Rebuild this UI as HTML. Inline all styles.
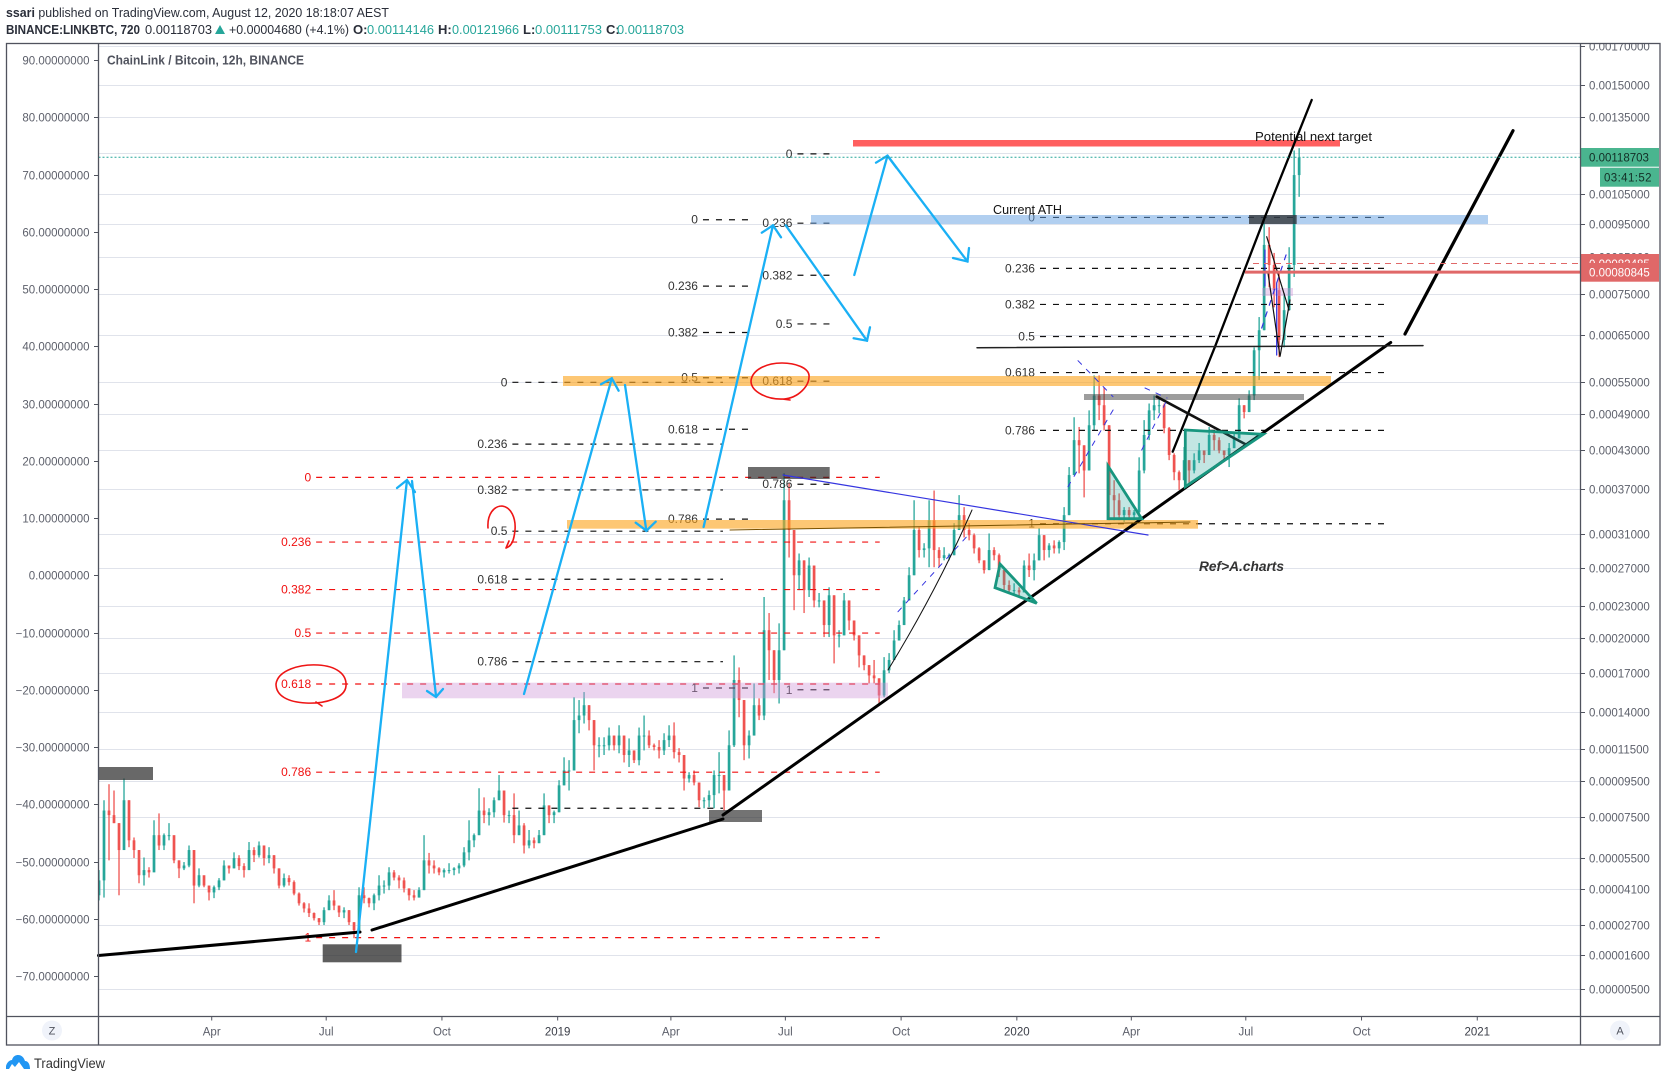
<!DOCTYPE html>
<html lang="en">
<head>
<meta charset="utf-8">
<title>LINKBTC TradingView chart</title>
<style>
html,body{margin:0;padding:0;background:#fff;width:1667px;height:1082px;overflow:hidden}
svg{display:block;font-family:"Liberation Sans",sans-serif}
</style>
</head>
<body>
<svg id="chart" xmlns="http://www.w3.org/2000/svg" width="1667" height="1082" viewBox="0 0 1667 1082">
  <defs>
    <clipPath id="plot-clip"><rect x="98.5" y="44" width="1481.5" height="972"/></clipPath>
    <clipPath id="right-clip"><rect x="1580" y="44" width="80" height="972"/></clipPath>
    <clipPath id="hidden-label-clip"><rect x="1580" y="250" width="80" height="13"/></clipPath>
  </defs>

  <text x="6" y="17" font-size="13" fill="#2a2e39" textLength="383" lengthAdjust="spacingAndGlyphs"><tspan font-weight="bold">ssari</tspan> published on TradingView.com, August 12, 2020 18:18:07 AEST</text>
  <g font-size="13" fill="#2a2e39">
    <text x="6" y="34" font-weight="bold" textLength="134" lengthAdjust="spacingAndGlyphs">BINANCE:LINKBTC, 720</text>
    <text x="145" y="34" textLength="67" lengthAdjust="spacingAndGlyphs">0.00118703</text>
    <polygon points="215,34 225,34 220,25" fill="#26a69a"/>
    <text x="229" y="34" textLength="120" lengthAdjust="spacingAndGlyphs">+0.00004680 (+4.1%)</text>
    <text x="353" y="34" font-weight="bold">O:</text>
    <text x="367" y="34" fill="#26a69a" textLength="67" lengthAdjust="spacingAndGlyphs">0.00114146</text>
    <text x="438" y="34" font-weight="bold">H:</text>
    <text x="452" y="34" fill="#26a69a" textLength="67" lengthAdjust="spacingAndGlyphs">0.00121966</text>
    <text x="523" y="34" font-weight="bold">L:</text>
    <text x="535" y="34" fill="#26a69a" textLength="67" lengthAdjust="spacingAndGlyphs">0.00111753</text>
    <text x="606" y="34" font-weight="bold">C:</text>
    <text x="617" y="34" fill="#26a69a" textLength="67" lengthAdjust="spacingAndGlyphs">0.00118703</text>
  </g>

  <g id="grid"></g>
  <g id="candles" clip-path="url(#plot-clip)"></g>
  <g id="fibs" clip-path="url(#plot-clip)"></g>

  <g>
    <rect x="853" y="140" width="487" height="6.5" fill="#ff5f5f"/>
    <rect x="811" y="215" width="677" height="9" fill="rgba(100,160,225,.5)"/>
    <rect x="563" y="376" width="768" height="10" fill="rgba(252,165,30,.62)"/>
    <rect x="567" y="520" width="631" height="8.7" fill="rgba(252,165,30,.62)"/>
    <rect x="402" y="682.7" width="486" height="15.6" fill="rgba(206,147,216,.4)"/>
    <rect x="1262" y="288" width="31" height="8" fill="rgba(206,147,216,.4)"/>
    <rect x="1084" y="394" width="220" height="6" fill="rgba(60,60,60,.5)"/>
    <rect x="1249" y="215" width="47.7" height="9" fill="rgba(40,40,40,.72)"/>
    <rect x="748" y="467" width="81.7" height="12" fill="rgba(40,40,40,.68)"/>
    <rect x="98.5" y="767" width="54.5" height="13" fill="rgba(40,40,40,.7)"/>
    <rect x="322.7" y="944.3" width="78.8" height="18" fill="rgba(40,40,40,.75)"/>
    <rect x="709" y="810" width="53" height="12" fill="rgba(40,40,40,.65)"/>
  </g>

  <g fill="none" stroke-linecap="round">
    <line x1="98.5" y1="955.5" x2="360" y2="932" stroke="#000" stroke-width="3"/>
    <line x1="372" y1="930" x2="723" y2="819" stroke="#000" stroke-width="3"/>
    <line x1="723" y1="815" x2="1390.7" y2="342.5" stroke="#000" stroke-width="3"/>
    <line x1="1405" y1="334" x2="1513" y2="130.7" stroke="#000" stroke-width="3.2"/>
    <path d="M1172.7 451.7 L1215 346.7 L1265 216.7 L1311.7 100" stroke="#000" stroke-width="2.3"/>
    <line x1="977" y1="347.7" x2="1423" y2="345.6" stroke="#222" stroke-width="1.5"/>
    <line x1="1156.7" y1="396.7" x2="1245" y2="444" stroke="#111" stroke-width="2.6"/>
    <line x1="783" y1="475" x2="1148" y2="535" stroke="#3535e0" stroke-width="1.2"/>
    <path d="M888 670 Q937 590 972 510" stroke="#111" stroke-width="1"/>
    <line x1="730" y1="530" x2="1190" y2="522" stroke="#7a5200" stroke-width="1"/>
    <line x1="898" y1="611.7" x2="966.7" y2="536.7" stroke="#3535e0" stroke-width="1" stroke-dasharray="5 7"/>
    <line x1="1068" y1="486.7" x2="1115" y2="406.7" stroke="#3535e0" stroke-width="1" stroke-dasharray="5 7"/>
    <line x1="1078" y1="360.7" x2="1113" y2="396.7" stroke="#3535e0" stroke-width="1" stroke-dasharray="5 7"/>
    <line x1="1141.7" y1="450" x2="1168" y2="398" stroke="#3535e0" stroke-width="1" stroke-dasharray="5 7"/>
    <line x1="1145" y1="388" x2="1167" y2="398" stroke="#3535e0" stroke-width="1" stroke-dasharray="5 7"/>
    <line x1="1261.7" y1="328" x2="1286.7" y2="253" stroke="#3535e0" stroke-width="1.2" stroke-dasharray="5 7"/>
    <line x1="1265" y1="250" x2="1265" y2="286" stroke="#2a2ae0" stroke-width="1.2"/>
    <line x1="1276.7" y1="283" x2="1276.7" y2="355" stroke="#2a2ae0" stroke-width="1.2"/>
    <line x1="1266.7" y1="236.7" x2="1289" y2="310" stroke="#111" stroke-width="1.2"/>
    <polyline points="1268,273 1280,356.7 1290,300" stroke="#111" stroke-width="1.2"/>
  </g>

  <g stroke="#18967f" stroke-width="2.8" fill="rgba(38,166,154,.28)" stroke-linejoin="miter">
    <polygon points="1108,466 1108,518.7 1141.7,518.7"/>
    <polygon points="1185.3,430 1263.3,434.3 1185.3,486.7"/>
    <polygon points="1000,564 995,587.7 1036.7,603.3"/>
  </g>

  <g fill="none" stroke="#1ab0f5" stroke-width="2.3" stroke-linecap="round" stroke-linejoin="miter">
    <polyline points="356,952 407,480"/>
    <polyline points="397,488 407,480 415,492"/>
    <polyline points="412,481 436,696"/>
    <polyline points="427,691 436,697 443,689"/>
    <polyline points="524,694 611.8,378.3"/>
    <polyline points="601,384.3 611.8,378.3 618.6,390.7"/>
    <polyline points="625,385 646.4,531"/>
    <polyline points="635.7,522.7 646.4,530.7 655.7,521.7"/>
    <polyline points="703.6,527 773,225.3"/>
    <polyline points="761.8,232.7 773,225.3 781,237.3"/>
    <polyline points="785.7,225.3 867,340.7"/>
    <polyline points="853.6,338.3 867,340.7 870,327.3"/>
    <polyline points="854.3,275 887.5,155.7"/>
    <polyline points="876,162.7 887.5,155.7 896.4,167.7"/>
    <polyline points="887.5,155.7 967.5,261.5"/>
    <polyline points="953,258 967.5,261.5 969,248"/>
  </g>

  <g fill="none" stroke="#ee1515" stroke-width="1.6" stroke-linecap="round">
    <path d="M276 684 C278 670 300 664 318 665 C336 666 347 674 346 686 C345 698 325 704 306 703 C288 702 276 696 276 684 M316 702 L322 706"/>
    <path d="M488 528 C487 514 494 506 502 506 C511 507 516 518 515 530 C514 540 512 546 506 548 M506 548 L509 541"/>
    <path d="M751 381 C752 370 766 363 782 363 C796 363 808 368 809 375 C810 386 798 398 784 399 C768 400 751 392 751 381 M782 399 L790 400"/>
  </g>

  <g fill="#111">
    <text x="1255" y="141" font-size="12.5" textLength="117" lengthAdjust="spacingAndGlyphs">Potential next target</text>
    <text x="993" y="214" font-size="12.5" textLength="69" lengthAdjust="spacingAndGlyphs">Current ATH</text>
    <text x="1199" y="571" font-size="13.5" font-weight="bold" font-style="italic" fill="#333" textLength="85" lengthAdjust="spacingAndGlyphs">Ref&gt;A.charts</text>
  </g>

  <line id="price-line" x1="98.5" x2="1580" stroke="#26a69a" stroke-width="1" stroke-dasharray="2 2"/>
  <line x1="1253" y1="263.5" x2="1580" y2="263.5" stroke="#e06868" stroke-width="1" stroke-dasharray="6 5"/>
  <line id="red-price-line" x1="1245" x2="1580" stroke="#e06868" stroke-width="3"/>

  <text x="107" y="64.5" font-size="12.5" font-weight="bold" fill="#50535e" textLength="197" lengthAdjust="spacingAndGlyphs">ChainLink / Bitcoin, 12h, BINANCE</text>

  <g id="left-axis"></g>
  <g id="right-axis" clip-path="url(#right-clip)"></g>
  <g id="time-axis"></g>

  <g font-size="11.5">
    <rect x="1580" y="148" width="79" height="18.7" fill="#4ab58f"/>
    <text x="1589" y="161.5" fill="#132e26">0.00118703</text>
    <rect x="1600" y="167.7" width="59" height="19" fill="#4ab58f"/>
    <text x="1604" y="181.5" fill="#132e26" letter-spacing=".4">03:41:52</text>
    <rect x="1580" y="254" width="79" height="12" fill="#e06868"/>
    <text x="1589" y="268" fill="#fff" clip-path="url(#hidden-label-clip)">0.00082485</text>
    <rect x="1580" y="263" width="79" height="18.7" fill="#e06868"/>
    <text x="1589" y="276.5" fill="#fff">0.00080845</text>
  </g>

  <g fill="none" stroke="#50535e" stroke-width="1.3">
    <rect x="6.5" y="43.5" width="1653.5" height="1001.5"/>
    <line x1="98.5" y1="43.5" x2="98.5" y2="1045"/>
    <line x1="1580.5" y1="43.5" x2="1580.5" y2="1045"/>
    <line x1="6.5" y1="1016.5" x2="1660" y2="1016.5"/>
  </g>

  <circle cx="52" cy="1030.5" r="10" fill="#f0f3fa"/>
  <text x="52" y="1034.5" font-size="11" fill="#50535e" text-anchor="middle">Z</text>
  <circle cx="1620" cy="1030.5" r="10" fill="#f0f3fa"/>
  <text x="1620" y="1034.5" font-size="11" fill="#50535e" text-anchor="middle">A</text>

  <path d="M6 1069 L6 1066 C7 1062 10 1060 12 1060 C13 1056 16 1055 18 1055 C22 1055 24 1058 25 1061 C28 1061 30 1064 30 1069 L24 1069 L19 1062 L15 1067 L12 1064 L9 1069 Z" fill="#2196f3"/>
  <text x="34" y="1068" font-size="13.5" fill="#333" textLength="71" lengthAdjust="spacingAndGlyphs">TradingView</text>
</svg>

<script>
// ---- Candles, in left-axis units ----
const firstOpen = -55.9;
const candleHighs = [
-51.5,-39.3,-36.5,-37.6,-43.3,-35.5,-39.3,-45.8,-48,-49.3,
-51,-42.8,-41.6,-45.1,-43.3,-46.3,-49.8,-50.1,-47.2,-48,
-51.2,-52.8,-54.2,-54.2,-52.9,-49.8,-50.7,-48.4,-48.9,-50.3,
-46.6,-47.5,-46.5,-47.2,-47.5,-48.9,-51.2,-52.1,-52.4,-53.3,
-55.4,-57.1,-57.3,-58.9,-59.9,-58,-55.9,-55,-57.7,-58,
-58.5,-60.6,-54.5,-54.5,-56.3,-55.6,-52.4,-53.3,-51,-51.5,
-52.4,-52.8,-54.7,-55,-54.5,-45.4,-48.5,-49.8,-51,-51.2,
-50.3,-51,-50.3,-47.5,-42.8,-45.1,-37.2,-38.8,-40.7,-38.8,
-34.9,-37.6,-41.1,-38.1,-41.1,-43.3,-44.5,-45.8,-44.5,-38.1,
-40.2,-41.1,-35.8,-31.8,-32.3,-21.3,-21.8,-20.4,-22.7,-25.3,
-28.3,-28.3,-26.6,-28,-26.2,-28,-28.5,-30.6,-26.6,-24.5,
-27.1,-29.4,-28.8,-27.6,-26.2,-25.7,-30.2,-31.4,-34.4,-34.1,
-36.2,-38.8,-37.6,-34.1,-30.9,-34.9,-27.1,-14,-16.1,-21.8,
-27.1,-18.9,-21.5,-3.8,-6.6,-13.1,-8.4,17.8,16.1,7.9,
3.8,2.6,3.1,1.7,-3.1,-4.4,-2.1,-3.5,-9.6,-3.1,
-4.4,-7.9,-10.5,-14,-15.7,-14.8,-18,-14.3,-13.6,-9.6,
-7.9,-3.8,1.4,13.1,8.4,5.6,13.1,14.8,4.9,4.9,
3.8,9.1,14,11.9,9.1,7.3,4.9,2.6,7.3,4.9,
3.8,0.9,-0.9,-1.4,-2.1,2.6,3.8,3.8,8.2,7,
5.6,6.1,6.1,11.9,18.9,27.6,25.9,22.7,28.8,34.9,
34.9,32.8,26.2,16.6,14.3,11.9,11.9,11.4,20.6,27.1,
30,31.4,31.1,30,25.9,21.3,18.3,22.4,20.1,21.3,
23.1,21.8,25.9,25.3,24.1,21.8,23.1,24.8,30.9,29.7,
32.3,39.8,45.1,62,60.8,56.3,52.8,49.3,57.3,74.2,74.6];
const candleLows = [
-56.8,-56.3,-49.8,-43.3,-55.9,-46.3,-47.5,-49.4,-53.8,-54.2,
-52.8,-50.3,-48,-48,-46.3,-50.3,-52.9,-51.5,-51,-57.3,
-54.5,-54.5,-56.8,-56.4,-55,-53.3,-52.1,-51.2,-51.5,-52.8,
-51.5,-50.1,-49.3,-50.7,-50.3,-52.1,-54.7,-54.5,-54.2,-55.9,
-57.7,-58.9,-59.7,-60.3,-61.1,-61.1,-58.5,-58.5,-59.7,-59.9,
-61.1,-63.4,-62,-57.3,-58,-58.5,-56.8,-55.6,-55,-53.3,
-54.7,-55.4,-56.8,-56.8,-56.3,-55,-52.1,-52.1,-52.4,-52.8,
-52.1,-52.4,-52.1,-51,-49.8,-47.5,-45.4,-43.3,-43.7,-42.3,
-39.3,-43.2,-43.3,-46.8,-45.4,-48.6,-47.7,-47.7,-46.8,-45.4,
-43.3,-43.3,-41.4,-36.7,-37.6,-34.1,-27.6,-25.9,-27.1,-34.1,
-31.8,-31.4,-30.6,-30.6,-31.1,-32.7,-33.5,-32.8,-33.2,-30.6,
-30.2,-30.6,-32,-31.4,-30,-32,-32.7,-37.6,-36.2,-36.7,
-40.5,-40.7,-40.5,-40.7,-38.1,-41.1,-37.6,-30,-24.8,-32.3,
-32,-28,-25.3,-25.3,-18.3,-20.6,-22.4,-13.1,3.1,-6.1,
-2.6,-6.6,-3.8,-5.6,-5.6,-10.8,-10.8,-15.4,-12.6,-10.5,
-9.6,-11.4,-16.1,-16.6,-18.9,-18.9,-22.4,-21.3,-17.1,-14.8,
-11.4,-8.7,-4.4,0,3.1,3.1,1.4,1.4,1.4,2.6,
2.6,3.5,7.9,6.6,6.1,3.8,2.1,0.3,0.9,2.6,
-0.3,-2.6,-3.1,-3.5,-3.8,-3,-0.3,-0.9,2.6,2.6,
3.1,3.8,3.8,4.4,10.5,17.5,17.8,13.6,18.3,25.3,
27.1,25.3,9.6,9.6,9.6,9.3,9.6,9.6,9.6,17.8,
23.6,27.1,28.3,24.8,20.1,16.6,14.9,16.6,16.1,17.8,
19.6,19.6,21,21.8,21.3,20.1,18.9,22.2,23.9,27.4,
28.5,30.6,34.1,42.8,50.3,46.8,38.1,39.8,46.3,52.1,66.1];
const candleCloses = [
-53.3,-41.1,-41.9,-43.3,-48,-39.3,-46.3,-48,-52.4,-51.5,
-51.9,-45.4,-47.2,-45.4,-45.4,-49.8,-51.2,-50.7,-48,-54.2,
-52.4,-54.2,-55.4,-54.5,-53.3,-50.7,-51.2,-49.4,-50.8,-51.5,
-48,-48.9,-47.2,-49.4,-48.9,-51.2,-54.2,-52.9,-53.6,-55.6,
-57.3,-58.2,-59,-59.9,-60.6,-58.5,-56.8,-57.7,-58.9,-58.5,
-60.6,-62,-55.9,-56.4,-57.3,-55.9,-54.2,-54.2,-51.9,-52.8,
-53.3,-54.7,-55.9,-56.3,-55,-49.8,-50.7,-51.2,-51.9,-51.5,
-51.5,-51.2,-50.7,-48.4,-46.3,-45.4,-41.1,-41.9,-41.4,-39.3,
-37.6,-41.9,-41.9,-45.4,-43.7,-47.2,-46.3,-46.8,-45.4,-40.2,
-41.9,-41.4,-36.7,-34.1,-34.1,-25.3,-24.5,-22.7,-25.3,-29.7,
-29.7,-29.7,-28,-29.7,-28,-31.4,-30.6,-32.3,-28,-28,
-29.7,-30,-30.6,-28.8,-28,-30.9,-31.4,-35.5,-34.9,-36.2,
-39.3,-39.3,-38.4,-34.9,-34.9,-37.6,-29.7,-18.3,-21.8,-29.7,
-28,-22.7,-24.5,-9.6,-13.1,-18.3,-13.1,13.1,7.9,0,
2.6,-2.6,1.7,-4.4,-4.4,-8.7,-3.5,-10.5,-10.5,-4.4,
-7.9,-10.5,-14,-15.7,-17.5,-18,-21,-16.6,-14.8,-11.4,
-8.7,-4.4,0,7.9,4.4,4.7,9.6,4.4,3,3.5,
3.5,7.9,10.5,7.9,7,4.7,2.6,0.9,4.4,3.5,
0.9,-1.7,-2.6,-2.6,-3,1.7,0.9,2.6,7,4.4,
5.2,4.7,5.8,10.5,17.5,23.6,22.7,18.3,26.2,31.4,
29.7,26.2,14,13.1,10.5,11.4,10.5,11,18.3,24.5,
28.8,29.7,29.7,25.7,21,18,16.6,20.1,18.3,20.1,
21.8,21,24.5,23.6,21.8,21,22.2,23.9,29.7,28.5,
31.4,39.3,42.8,57.7,54.2,49.8,41.1,46.3,54.2,69.9,73];

// ---- Axis tick values ----
const leftTicks = [90,80,70,60,50,40,30,20,10,0,-10,-20,-30,-40,-50,-60,-70];
const rightTicks = [0.0017,0.0015,0.00135,0.0012,0.00105,0.00095,0.00085,0.00075,0.00065,0.00055,0.00049,0.00043,0.00037,0.00031,0.00027,0.00023,0.0002,0.00017,0.00014,0.000115,0.000095,0.000075,0.000055,0.000041,0.000027,0.000016,0.000005];
const timeLabels = ['Apr','Jul','Oct','2019','Apr','Jul','Oct','2020','Apr','Jul','Oct','2021'];
const timeDays = [90,181,273,365,455,546,638,730,821,912,1004,1096];
const lastPrice = 0.00118703;
const alertPrice = 0.00080845;

// ---- Fibonacci retracement levels in left-axis units ----
const fibRatios = ['0','0.236','0.382','0.5','0.618','0.786','1'];
const fibRedLevels = [17.1,5.8,-2.5,-10.1,-19,-34.4,-63.3];
const fibSecondLevels = [33.7,22.9,14.9,7.7,-0.7,-15.1,-40.7];
const fibThirdLevels = [62.1,50.5,42.4,34.5,25.5,9.8,-19.7];
const fibFourthLevels = [73.6,61.5,52.4,43.9,33.9,15.9,-20];
const fibFifthLevels = [62.5,53.6,47.3,41.7,35.4,25.3,9];
const fibRedDays = [173,621];
const fibSecondDays = [329,496.4];
const fibThirdDays = [480.5,517.9];
const fibFourthDays = [555.6,582.3];
const fibFifthDays = [748.4,1023.5];

const stepDays = 3.975;
const firstDay = 0.4;

const NS = 'http://www.w3.org/2000/svg';
function xOf(day){ return 98.5 + day * 1.258; }
function yLeft(u){ return 575.25 - u * 5.725; }
function yPrice(p){ return 989 - 329 * Math.log((p + 0.0000975) / 0.0001025); }
function make(tag, parent, attrs, txt){
  const el = document.createElementNS(NS, tag);
  for (const k in attrs) el.setAttribute(k, attrs[k]);
  if (txt !== undefined) el.textContent = txt;
  parent.appendChild(el);
  return el;
}
const AXIS_TEXT = '#5d606b';
const gridGroup = document.getElementById('grid');
const rightGroup = document.getElementById('right-axis');
rightTicks.forEach(function(p){
  const y = Math.floor(yPrice(p)) + 0.5;
  const line = make('line', gridGroup, {x1:98.5, x2:1580, y1:y, y2:y, stroke:'#e0e3eb', 'stroke-width':1});
  
  
  const tick = make('line', rightGroup, {x1:1580, x2:1585, y1:y, y2:y, stroke:'#50535e', 'stroke-width':1});
  
  
  const label = make('text', rightGroup, {x:1589, y:y + 4, 'font-size':11.5, fill:AXIS_TEXT}, p.toFixed(8));
  
  
});

const leftGroup = document.getElementById('left-axis');
leftTicks.forEach(function(v){
  const y = Math.round(yLeft(v)) + 0.5;
  const tick = make('line', leftGroup, {x1:94, x2:98.5, y1:y, y2:y, stroke:'#50535e', 'stroke-width':1});
  
  
  const label = make('text', leftGroup, {x:89.5, y:y + 4, 'font-size':11.5, fill:AXIS_TEXT, 'text-anchor':'end'}, v.toFixed(8).replace('-', '\u2212'));
  
  
});

const timeGroup = document.getElementById('time-axis');
timeLabels.forEach(function(t, i){
  const x = xOf(timeDays[i]);
  const tick = make('line', timeGroup, {x1:x, x2:x, y1:1016.5, y2:1020.5, stroke:'#50535e', 'stroke-width':1});
  
  
  const label = make('text', timeGroup, {x:x, y:1035.5, 'font-size':11.5, fill:/^20/.test(t) ? '#3a3d47' : AXIS_TEXT, 'text-anchor':'middle'}, t);
  
  
});

const candleGroup = document.getElementById('candles');
candleCloses.forEach(function(close, i){
  const open = i === 0 ? firstOpen : candleCloses[i - 1];
  const color = close >= open ? '#26a69a' : '#ef5350';
  const x = xOf(firstDay + i * stepDays);
  const wick = make('line', candleGroup, {x1:x, x2:x, y1:yLeft(candleHighs[i]), y2:yLeft(candleLows[i]), stroke:color, 'stroke-width':1.3});
  
  
  const top = yLeft(Math.max(open, close));
  const bottom = yLeft(Math.min(open, close));
  const body = make('rect', candleGroup, {x:x - 1.35, y:top, width:2.7, height:Math.max(bottom - top, 1), fill:color});
  
  
});

const fibGroup = document.getElementById('fibs');
function drawFib(levels, days, color, name, hideLastLabel){
  const x1 = xOf(days[0]);
  const x2 = xOf(days[1]);
  levels.forEach(function(v, i){
    const y = yLeft(v);
    const line = make('line', fibGroup, {x1:x1, x2:x2, y1:y, y2:y, stroke:color, 'stroke-width':1.2, 'stroke-dasharray':'6 7'});
    
    
    if (hideLastLabel && i === levels.length - 1) return;
    const label = make('text', fibGroup, {x:x1 - 5, y:y + 4, 'font-size':12, fill:color === '#111111' ? '#333333' : color, 'text-anchor':'end'}, fibRatios[i]);
    
    
  });
}
drawFib(fibRedLevels, fibRedDays, '#f01010', 'fib-red', false);
drawFib(fibSecondLevels, fibSecondDays, '#111111', 'fib-second', true);
drawFib(fibThirdLevels, fibThirdDays, '#111111', 'fib-third', false);
drawFib(fibFourthLevels, fibFourthDays, '#111111', 'fib-fourth', false);
drawFib(fibFifthLevels, fibFifthDays, '#111111', 'fib-fifth', false);

const priceLine = document.getElementById('price-line');
priceLine.setAttribute('y1', yPrice(lastPrice));
priceLine.setAttribute('y2', yPrice(lastPrice));
const redLine = document.getElementById('red-price-line');
redLine.setAttribute('y1', yPrice(alertPrice));
redLine.setAttribute('y2', yPrice(alertPrice));
</script>
</body>
</html>
